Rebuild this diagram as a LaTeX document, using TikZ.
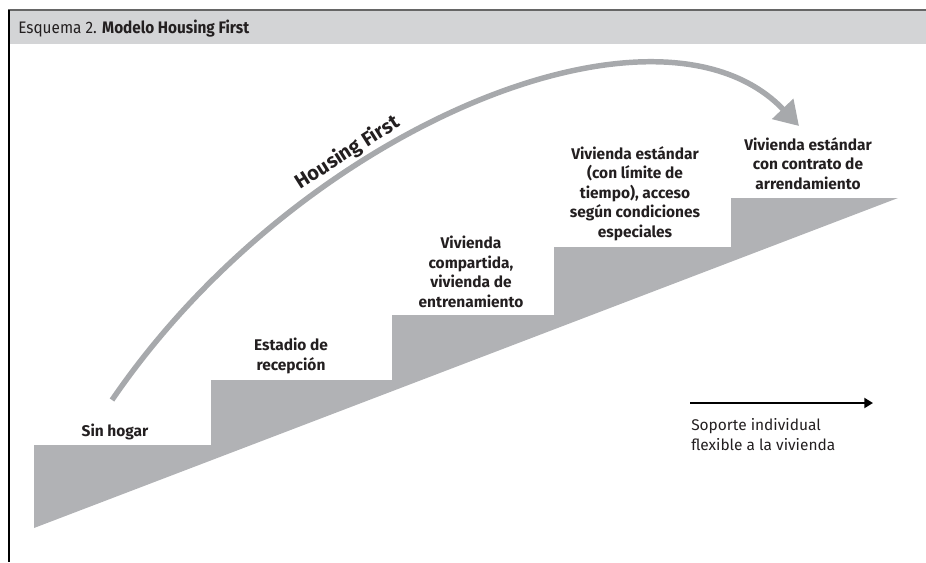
\documentclass[tikz,border=0pt]{standalone}
\usepackage{fontspec}
\setmainfont{Fira Sans}
\usetikzlibrary{arrows.meta}
\definecolor{stair}{HTML}{B1B2B5}
\definecolor{arcgray}{HTML}{A7A9AC}
\definecolor{hdr}{HTML}{D3D4D6}
\definecolor{ink}{HTML}{231F20}
\begin{document}
\begin{tikzpicture}[x=0.75pt,y=-0.75pt,
  lbl/.style={font=\bfseries\fontsize{11.6}{14.6}\selectfont, text=ink, align=center, inner sep=0pt, anchor=base},
  plain/.style={font=\fontsize{11.6}{15}\selectfont, text=ink, align=left, inner sep=0pt, anchor=base west}]
\useasboundingbox (0,0) rectangle (926,562);
% header
\fill[hdr] (9,10) rectangle (926,43.5);
\draw[line width=1.1pt, black!60] (8,10) -- (926,10);
\draw[line width=0.8pt, black] (9,10) -- (9,562);
\node[font=\fontsize{12.5}{14}\selectfont, text=ink, inner sep=0pt, anchor=base west] (title) at (18,33) {\scalebox{0.92}[1]{Esquema 2. \textbf{Modelo Housing First}}};
% staircase
\fill[stair] (34,528) -- (34,445) -- (211,445) -- (211,380) -- (392,380) -- (392,315)
  -- (554,315) -- (554,247) -- (731,247) -- (731,198) -- (898,198) -- cycle;
% arc
\coordinate (hs) at (112,400);
\coordinate (he) at (799,126);
\draw[arcgray, line width=4.1pt, -{Triangle[length=17.8pt,width=21.2pt]}]
  (hs) .. controls (300,125) and (660,-20) .. (he)
  node[pos=0.35, sloped, above=2pt, font=\bfseries\fontsize{15}{17}\selectfont, text=ink, inner sep=0pt] (hf) {Housing First};
% labels
\node[lbl] (sin) at (115,436) {Sin hogar};
\node[lbl] (est) at (291,370) {Estadio de\\recepción};
\node[lbl] (comp) at (471,307) {Vivienda\\compartida,\\vivienda de\\entrenamiento};
\node[lbl] (lim) at (635,237) {Vivienda estándar\\(con límite de\\tiempo), acceso\\según condiciones\\especiales};
\node[lbl] (arr) at (808,189) {Vivienda estándar\\con contrato de\\arrendamiento};
% support arrow
\coordinate (s1) at (690,403);
\coordinate (s2) at (873,403);
\draw[line width=1.5pt, black, -{Triangle[length=6.5pt,width=7.5pt]}] (s1) -- (s2);
\node[plain] (sop) at (691,450) {Soporte individual\\flexible a la vivienda};
\end{tikzpicture}
\end{document}
